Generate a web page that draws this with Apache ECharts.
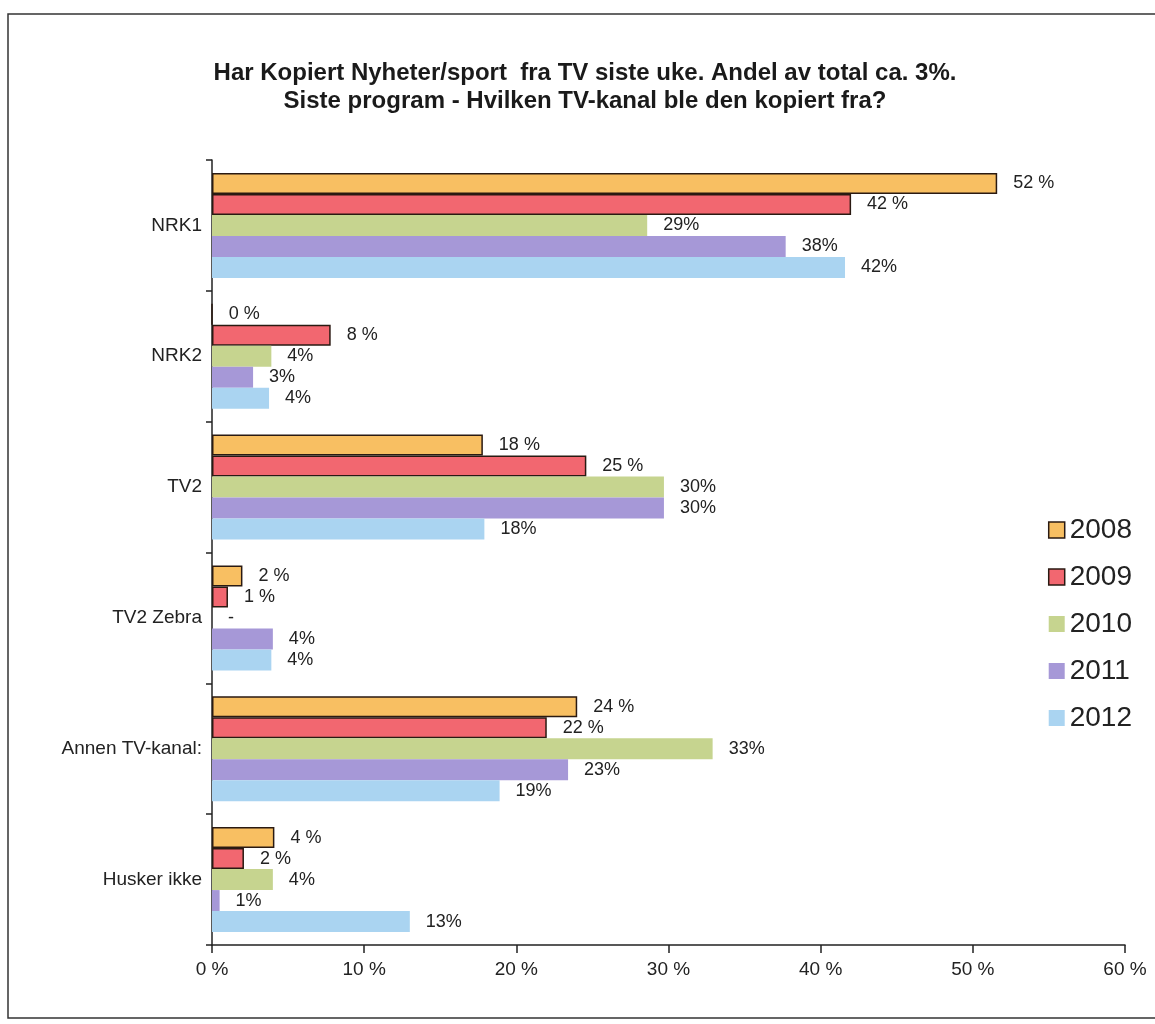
<!DOCTYPE html>
<html>
<head>
<meta charset="utf-8">
<script src="https://cdn.jsdelivr.net/npm/echarts@6/dist/echarts.min.js"></script>
<style>html,body{margin:0;padding:0;background:#fff}#c{width:1155px;height:1024px}</style>
</head>
<body>
<div id="c"></div>
<script>
var categories = ['NRK1', 'NRK2', 'TV2', 'TV2 Zebra', 'Annen TV-kanal:', 'Husker ikke'];
var years = ['2008', '2009', '2010', '2011', '2012'];
var v2008 = [51.6, 0, 17.8, 2.0, 24.0, 4.1];
var v2009 = [42.0, 7.8, 24.6, 1.05, 22.0, 2.1];
var v2010 = [28.6, 3.9, 29.7, null, 32.9, 4.0];
var v2011 = [37.7, 2.7, 29.7, 4.0, 23.4, 0.5];
var v2012 = [41.6, 3.75, 17.9, 3.9, 18.9, 13.0];
var xTicks = [0, 10, 20, 30, 40, 50, 60];

var colors = ['#F8BF62', '#F26770', '#C6D48F', '#A698D7', '#AAD4F1'];
var bordered = [true, true, false, false, false];
var spaced = [true, true, false, false, false];
var allVals = [v2008, v2009, v2010, v2011, v2012];
var FONT = 'Liberation Sans, Arial, sans-serif';

var series = years.map(function (y, i) {
  return {
    name: y,
    type: 'bar',
    barWidth: 21,
    barGap: '0%',
    itemStyle: {
      color: colors[i],
      borderColor: bordered[i] ? '#2a1a12' : colors[i],
      borderWidth: bordered[i] ? 1.5 : 0
    },
    label: {
      show: true,
      position: 'right',
      distance: 16,
      color: '#222',
      fontSize: 18,
      fontFamily: FONT,
      formatter: function (p) {
        if (p.data && p.data.missing) return '-';
        var r = Math.max(0, Math.round(p.value));
        if (r === 0 && p.value > 0) r = 1;
        return spaced[i] ? r + ' %' : r + '%';
      }
    },
    data: allVals[i].map(function (v) {
      return v === null ? { value: 0, missing: true } : v;
    })
  };
});

var chart = echarts.init(document.getElementById('c'));
chart.setOption({
  animation: false,
  backgroundColor: '#fff',
  title: {
    text: 'Har Kopiert Nyheter/sport  fra TV siste uke. Andel av total ca. 3%.\nSiste program - Hvilken TV-kanal ble den kopiert fra?',
    left: 580,
    textAlign: 'center',
    top: 54,
    textStyle: {
      fontFamily: FONT,
      fontWeight: 'bold',
      fontSize: 24,
      lineHeight: 28,
      color: '#1a1a1a'
    }
  },
  legend: {
    orient: 'vertical',
    right: 18,
    top: 511,
    itemWidth: 16,
    itemHeight: 16,
    itemGap: 19,
    textStyle: { fontSize: 28, color: '#222', fontFamily: FONT, padding: [0, 0, 0, 0] },
    data: years.map(function (y, i) {
      return { name: y, icon: 'rect', itemStyle: { borderColor: bordered[i] ? '#2a1a12' : colors[i], borderWidth: bordered[i] ? 1.5 : 0 } };
    })
  },
  grid: { left: 212, right: 30, top: 160, bottom: 79 },
  xAxis: {
    type: 'value',
    min: 0,
    max: 60,
    interval: 10,
    splitLine: { show: false },
    axisLine: { show: true, lineStyle: { color: '#222', width: 1.5 } },
    axisTick: { show: true, length: 8, lineStyle: { color: '#222', width: 1.5 } },
    axisLabel: {
      fontSize: 19,
      color: '#222',
      margin: 15,
      fontFamily: FONT,
      formatter: function (v) { return xTicks.indexOf(v) >= 0 ? v + ' %' : ''; }
    }
  },
  yAxis: {
    type: 'category',
    inverse: true,
    data: categories,
    axisLine: { show: true, lineStyle: { color: '#222', width: 1.5 } },
    axisTick: { show: true, length: 6, lineStyle: { color: '#222', width: 1.5 } },
    axisLabel: { fontSize: 19, color: '#222', margin: 10, fontFamily: FONT }
  },
  graphic: [{
    type: 'rect',
    shape: { x: 8, y: 14, width: 1160, height: 1004 },
    style: { fill: 'none', stroke: '#333', lineWidth: 1.5 },
    silent: true
  }],
  series: series
});
</script>
</body>
</html>
